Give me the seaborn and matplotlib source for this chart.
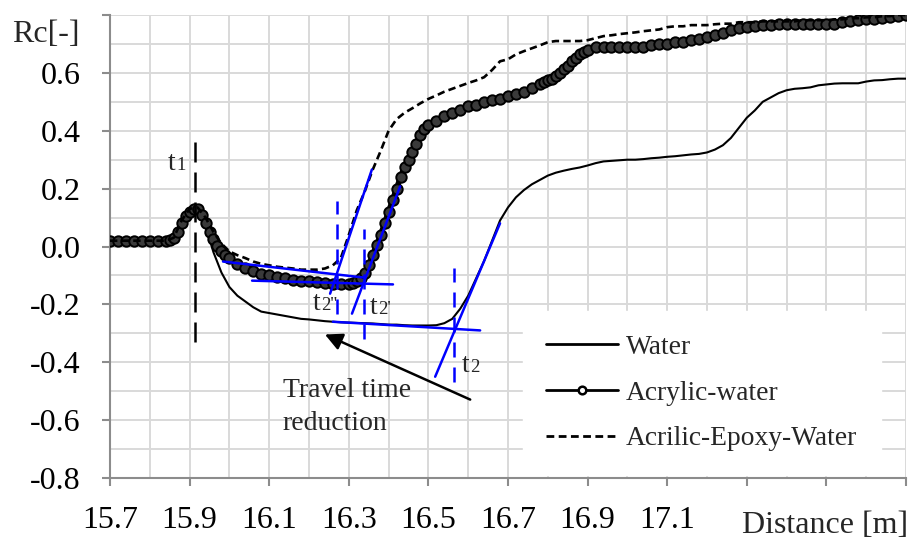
import matplotlib
matplotlib.use("Agg")
import matplotlib.pyplot as plt
import seaborn as sns
import pandas as pd
from matplotlib.ticker import FixedLocator

# ---------------- data ----------------
distance = [15.70, 15.72, 15.74, 15.76, 15.78, 15.80, 15.82, 15.84, 15.86, 15.88,
            15.90, 15.92, 15.94, 15.96, 15.98, 16.00, 16.02, 16.04, 16.06, 16.08,
            16.10, 16.12, 16.14, 16.16, 16.18, 16.20, 16.22, 16.24, 16.26, 16.28,
            16.30, 16.32, 16.34, 16.36, 16.38, 16.40, 16.42, 16.44, 16.46, 16.48,
            16.50, 16.52, 16.54, 16.56, 16.58, 16.60, 16.62, 16.64, 16.66, 16.68,
            16.70, 16.72, 16.74, 16.76, 16.78, 16.80, 16.82, 16.84, 16.86, 16.88,
            16.90, 16.92, 16.94, 16.96, 16.98, 17.00, 17.02, 17.04, 17.06, 17.08,
            17.10, 17.12, 17.14, 17.16, 17.18, 17.20, 17.22, 17.24, 17.26, 17.28,
            17.30, 17.32, 17.34, 17.36, 17.38, 17.40, 17.42, 17.44, 17.46, 17.48,
            17.50, 17.52, 17.54, 17.56, 17.58, 17.60, 17.62, 17.64, 17.66, 17.68,
            17.70]

water = [0.02, 0.02, 0.02, 0.02, 0.02, 0.02, 0.02, 0.02, 0.03, 0.08,
         0.12, 0.12, 0.07, -0.02, -0.09, -0.14, -0.17, -0.19, -0.21, -0.225,
         -0.23, -0.235, -0.24, -0.245, -0.25, -0.252, -0.255, -0.258, -0.26, -0.262,
         -0.263, -0.264, -0.265, -0.266, -0.268, -0.27, -0.27, -0.272, -0.273, -0.273,
         -0.273, -0.272, -0.265, -0.25, -0.215, -0.17, -0.11, -0.05, 0.02, 0.09,
         0.135, 0.17, 0.195, 0.215, 0.23, 0.245, 0.255, 0.262, 0.268, 0.273,
         0.28, 0.288, 0.294, 0.296, 0.298, 0.30, 0.30, 0.302, 0.305, 0.307,
         0.31, 0.312, 0.315, 0.318, 0.32, 0.325, 0.335, 0.35, 0.375, 0.41,
         0.445, 0.47, 0.50, 0.515, 0.53, 0.54, 0.545, 0.547, 0.55, 0.557,
         0.56, 0.563, 0.564, 0.564, 0.564, 0.57, 0.574, 0.575, 0.578, 0.58,
         0.58]

acrilic_epoxy_water = [0.02, 0.02, 0.02, 0.02, 0.02, 0.02, 0.02, 0.02, 0.03, 0.09,
                       0.13, 0.135, 0.10, 0.05, 0.01, -0.017, -0.03, -0.04, -0.052, -0.06,
                       -0.065, -0.07, -0.073, -0.076, -0.08, -0.08, -0.08, -0.076, -0.065, -0.04,
                       0.04, 0.125, 0.19, 0.265, 0.33, 0.40, 0.44, 0.462, 0.478, 0.495,
                       0.51, 0.522, 0.535, 0.545, 0.555, 0.565, 0.574, 0.585, 0.61, 0.64,
                       0.647, 0.664, 0.675, 0.685, 0.695, 0.706, 0.71, 0.71, 0.71, 0.71,
                       0.713, 0.72, 0.727, 0.73, 0.734, 0.737, 0.74, 0.744, 0.747, 0.75,
                       0.758, 0.761, 0.761, 0.765, 0.765, 0.765, 0.768, 0.77, 0.77, 0.775,
                       0.775, 0.775, 0.778, 0.778, 0.778, 0.778, 0.778, 0.782, 0.782, 0.782,
                       0.782, 0.785, 0.785, 0.789, 0.789, 0.792, 0.792, 0.796, 0.796, 0.80,
                       0.80]

# the acrylic record is sampled more densely (markers form a continuous band)
acrylic_distance = [15.70, 15.72, 15.74, 15.76, 15.78, 15.80, 15.82, 15.84,
                    15.85, 15.86, 15.87, 15.88, 15.89, 15.90, 15.91, 15.92,
                    15.93, 15.94, 15.95, 15.96, 15.97, 15.98, 15.99, 16.00,
                    16.02, 16.04, 16.06, 16.08, 16.10, 16.12, 16.14, 16.16,
                    16.18, 16.20, 16.22, 16.24, 16.26, 16.28, 16.30,
                    16.31, 16.32, 16.33, 16.34, 16.35, 16.36, 16.37, 16.38, 16.39, 16.40,
                    16.41, 16.42, 16.43, 16.44, 16.45, 16.46, 16.47, 16.48, 16.49, 16.50,
                    16.52, 16.54, 16.56, 16.58, 16.60, 16.62, 16.64, 16.66, 16.68, 16.70,
                    16.72, 16.74, 16.76, 16.78,
                    16.79, 16.80, 16.81, 16.82, 16.83, 16.84, 16.85, 16.86, 16.87, 16.88,
                    16.89, 16.90,
                    16.92, 16.94, 16.96, 16.98, 17.00, 17.02, 17.04, 17.06, 17.08, 17.10,
                    17.12, 17.14, 17.16, 17.18, 17.20, 17.22, 17.24, 17.26, 17.28, 17.30,
                    17.32, 17.34, 17.36, 17.38, 17.40, 17.42, 17.44, 17.46, 17.48, 17.50,
                    17.52, 17.54, 17.56, 17.58, 17.60, 17.62, 17.64, 17.66, 17.68, 17.70]
acrylic_water = [0.02, 0.02, 0.02, 0.02, 0.02, 0.02, 0.02, 0.02,
                 0.022, 0.03, 0.05, 0.08, 0.105, 0.12, 0.13, 0.13,
                 0.11, 0.08, 0.05, 0.025, 0.003, -0.017, -0.03, -0.04,
                 -0.06, -0.073, -0.085, -0.095, -0.10, -0.107, -0.11, -0.115,
                 -0.118, -0.12, -0.124, -0.125, -0.128, -0.128, -0.128,
                 -0.126, -0.12, -0.11, -0.09, -0.065, -0.03, 0.005, 0.04, 0.08, 0.12,
                 0.16, 0.20, 0.24, 0.275, 0.30, 0.325, 0.355, 0.385, 0.405, 0.42,
                 0.435, 0.45, 0.462, 0.472, 0.484, 0.49, 0.498, 0.505, 0.51, 0.52,
                 0.526, 0.533, 0.547, 0.56,
                 0.567, 0.574, 0.58, 0.59, 0.60, 0.612, 0.625, 0.64, 0.652, 0.664,
                 0.673, 0.68,
                 0.69, 0.69, 0.69, 0.69, 0.69, 0.69, 0.69, 0.695, 0.70, 0.70,
                 0.705, 0.705, 0.713, 0.716, 0.723, 0.73, 0.737, 0.747, 0.754, 0.758,
                 0.761, 0.765, 0.765, 0.768, 0.768, 0.768, 0.768, 0.768, 0.768, 0.77,
                 0.77, 0.775, 0.778, 0.782, 0.785, 0.785, 0.79, 0.792, 0.796, 0.80]

series_names = ["Water", "Acrylic-water", "Acrilic-Epoxy-Water"]

x_ticks = [15.7, 15.9, 16.1, 16.3, 16.5, 16.7, 16.9, 17.1, 17.3, 17.5, 17.7]
x_tick_labels = ["15.7", "15.9", "16.1", "16.3", "16.5", "16.7", "16.9", "17.1", "", "", ""]
x_grid = [15.8, 16.0, 16.2, 16.4, 16.6, 16.8, 17.0, 17.2, 17.4, 17.6]
y_ticks = [-0.8, -0.6, -0.4, -0.2, 0.0, 0.2, 0.4, 0.6, 0.8]
y_tick_labels = ["-0.8", "-0.6", "-0.4", "-0.2", "0.0", "0.2", "0.4", "0.6", ""]
y_grid = [-0.7, -0.5, -0.3, -0.1, 0.1, 0.3, 0.5, 0.7]

# blue tangent construction lines (start/end in data units)
tangent_x = [[15.984, 16.336], [16.057, 16.411], [16.253, 16.358],
             [16.308, 16.429], [16.260, 16.630], [16.517, 16.680]]
tangent_y = [[-0.052, -0.107], [-0.118, -0.131], [-0.163, 0.266],
             [-0.232, 0.208], [-0.260, -0.290], [-0.450, 0.080]]
# blue dashed markers of arrival times t2'', t2', t2
arrival_x = [16.270, 16.338, 16.564]
arrival_y = [[-0.232, 0.156], [-0.318, 0.062], [-0.467, -0.076]]
# black dashed marker of t1
t1_x = 15.914
t1_y = [-0.33, 0.38]

time_labels = [("t", "1", 15.846, 0.266), ("t", "2''", 16.210, -0.218),
               ("t", "2'", 16.353, -0.232), ("t", "2", 16.584, -0.433)]
arrow_tail = (16.605, -0.529)
arrow_head = (16.240, -0.304)
note_lines = ["Travel time", "reduction"]
note_x = 16.134
note_y = [-0.519, -0.633]

# ---------------- style ----------------
sns.set_theme(style="white")
plt.rcParams["font.family"] = ["Liberation Serif", "DejaVu Serif"]

W, H = 913, 542
fig = plt.figure(figsize=(W / 100, H / 100), dpi=100)
ax = fig.add_axes([110 / W, 1 - 478 / H, 796 / W, 463 / H])

GRID = "#d9d9d9"
AXC = "#8c8c8c"
for gx in x_grid + x_ticks:
    ax.axvline(gx, color=GRID, lw=1.4, zorder=0)
for gy in y_grid + y_ticks:
    ax.axhline(gy, color=GRID, lw=1.4, zorder=0)

df = pd.DataFrame({"distance": distance, "Water": water,
                   "Acrilic-Epoxy-Water": acrilic_epoxy_water})
df_acr = pd.DataFrame({"distance": acrylic_distance, "Acrylic-water": acrylic_water})

sns.lineplot(data=df, x="distance", y="Water", ax=ax, color="black",
             lw=1.5, label=series_names[0], zorder=3)
sns.lineplot(data=df_acr, x="distance", y="Acrylic-water", ax=ax, color="black",
             lw=4.0, marker="o", markersize=7.5, markerfacecolor="#3a3a3a",
             markeredgecolor="black", markeredgewidth=1.4,
             label=series_names[1], zorder=4)
sns.lineplot(data=df, x="distance", y="Acrilic-Epoxy-Water", ax=ax, color="black",
             lw=1.9, linestyle=(0, (2.8, 1.6)), label=series_names[2], zorder=5)

# construction lines
for tx, ty in zip(tangent_x, tangent_y):
    ax.plot(tx, ty, color="blue", lw=1.8, zorder=6)
for axx, ayy in zip(arrival_x, arrival_y):
    ax.plot([axx, axx], ayy, color="blue", lw=1.8, linestyle=(0, (6, 4)), zorder=6)
ax.plot([t1_x, t1_x], t1_y, color="black", lw=1.8, linestyle=(0, (8, 4)), zorder=6)

for base, sub, lx, ly in time_labels:
    ax.text(lx, ly, base, fontsize=20, ha="left", va="baseline", zorder=7)
    ax.annotate(sub, xy=(lx, ly), xytext=(6.2, 0), textcoords="offset points",
                fontsize=13.5, ha="left", va="baseline", zorder=7)

ax.annotate("", xy=arrow_head, xytext=arrow_tail,
            arrowprops=dict(arrowstyle="-|>", color="black", lw=1.8,
                            mutation_scale=26, shrinkA=0, shrinkB=0), zorder=7)
for line, ny in zip(note_lines, note_y):
    ax.text(note_x, ny, line, fontsize=20, ha="left", va="baseline", zorder=7)

# axes
ax.set_xlim(15.7, 17.7)
ax.set_ylim(-0.8, 0.8)
ax.xaxis.set_major_locator(FixedLocator(x_ticks))
ax.set_xticklabels(x_tick_labels)
ax.yaxis.set_major_locator(FixedLocator(y_ticks))
ax.set_yticklabels(y_tick_labels)
ax.set_xlabel("")
ax.set_ylabel("")
for s in ["top", "right"]:
    ax.spines[s].set_visible(False)
for s in ["left", "bottom"]:
    ax.spines[s].set_color(AXC)
    ax.spines[s].set_linewidth(1.5)
ax.tick_params(axis="both", which="major", direction="out", length=6, width=1.5,
               color=AXC, labelsize=23, labelcolor="black")
ax.tick_params(axis="y", pad=15)
ax.tick_params(axis="x", pad=14)
ax.tick_params(left=True, bottom=True)

leg = ax.legend(loc="upper left", bbox_to_anchor=((523 - 110) / 796, 1 - (311 - 15) / 463),
                borderaxespad=0, frameon=True, fontsize=19.8, handlelength=2.6,
                handletextpad=0.3, labelspacing=0.75, borderpad=0.85)
leg.get_frame().set_facecolor("white")
leg.get_frame().set_edgecolor("white")
leg.get_frame().set_alpha(1)
leg.set_zorder(10)
for h in leg.legend_handles:
    h.set_linewidth(2.0)
    if h.get_marker() == "o":
        h.set_markersize(5.5)
        h.set_markerfacecolor("white")
        h.set_markeredgecolor("black")
        h.set_markeredgewidth(1.8)

fig.text(80 / W, 1 - 42 / H, "Rc[-]", fontsize=23, ha="right", va="baseline")
fig.text(908 / W, 1 - 533 / H, "Distance [m]", fontsize=23, ha="right", va="baseline")

fig.savefig("out.png", dpi=100)
